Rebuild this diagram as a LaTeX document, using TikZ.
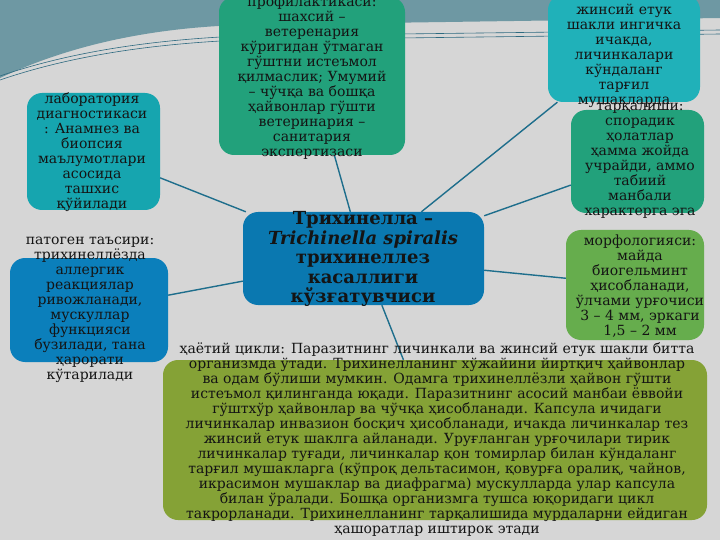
\documentclass[tikz,border=0pt]{standalone}
\usepackage{fontspec}
\setmainfont{DejaVu Serif}
\definecolor{bg}{HTML}{D6D6D6}
\definecolor{band}{HTML}{6E98A3}
\definecolor{wline}{HTML}{2E6A80}
\definecolor{conn}{HTML}{1E6E8C}
\definecolor{cgreen}{HTML}{22A17B}
\definecolor{cteal}{HTML}{20B1B9}
\definecolor{cteal2}{HTML}{16A5AF}
\definecolor{cmorph}{HTML}{66AD4D}
\definecolor{cblue}{HTML}{0B7FBB}
\definecolor{ccenter}{HTML}{0A78B0}
\definecolor{colive}{HTML}{85A236}
\tikzset{
  boxshape/.style={rectangle, rounded corners=15pt, inner sep=0pt, draw=none},
  txt/.style={align=center, inner sep=0pt, text=black!92, font=\fontsize{14}{15}\selectfont},
  ctxt/.style={align=center, inner sep=0pt, text=black!92, font=\fontsize{18}{19.5}\selectfont\bfseries},
  conn/.style={draw=conn, line width=1.4pt}
}
\begin{document}
\begin{tikzpicture}[x=1pt,y=-1pt]
\useasboundingbox (0,0) rectangle (720,540);
\fill[bg] (0,0) rectangle (720,540);
% top band
\fill[band] (0,0) -- (0,78) .. controls (70,45) and (150,28) .. (240,25) -- (720,18) -- (720,0) -- cycle;
\draw[wline, line width=0.6pt] (0,76) .. controls (70,52) and (150,40) .. (240,36) -- (720,30);
\draw[wline, line width=0.6pt] (0,80) .. controls (70,56) and (150,44) .. (240,40) -- (720,34);

% boxes
\node[boxshape, fill=cgreen, minimum width=186pt, minimum height=158pt] (prof) at (312,76) {};
\node[boxshape, fill=cteal, minimum width=152pt, minimum height=107pt] (jins) at (624,48.5) {};
\node[boxshape, fill=cgreen, minimum width=133pt, minimum height=103pt] (tarq) at (637.5,161.5) {};
\node[boxshape, fill=cmorph, minimum width=138pt, minimum height=110pt] (morf) at (635,285) {};
\node[boxshape, fill=cteal2, minimum width=133pt, minimum height=117pt] (lab) at (93.5,151.5) {};
\node[boxshape, fill=cblue, minimum width=158pt, minimum height=104pt] (pat) at (89,310) {};
\node[boxshape, fill=ccenter, minimum width=241pt, minimum height=93pt] (cen) at (363.5,258.5) {};
\node[boxshape, fill=colive, minimum width=544pt, minimum height=160pt] (hay) at (435,440) {};

% connectors
\draw[conn] (cen) -- (prof);
\draw[conn] (cen) -- (jins);
\draw[conn] (cen) -- (tarq);
\draw[conn] (cen) -- (morf);
\draw[conn] (cen) -- (lab);
\draw[conn] (cen) -- (pat);
\draw[conn] (cen) -- (hay);

% texts
\node[txt] (tprof) at (312,78) {профилактикаси:\\шахсий –\\ветеренария\\кўригидан ўтмаган\\гўштни истеъмол\\қилмаслик; Умумий\\– чўчқа ва бошқа\\ҳайвонлар гўшти\\ветеринария –\\санитария\\экспертизаси};
\node[txt] (tjins) at (624,56) {жинсий етук\\шакли ингичка\\ичакда,\\личинкалари\\кўндаланг\\тарғил\\мушакларда};
\node[txt] (ttarq) at (640,161) {тарқалиши:\\спорадик\\ҳолатлар\\ҳамма жойда\\учрайди, аммо\\табиий\\манбали\\характерга эга};
\node[txt] (tmorf) at (640,286) {морфологияси:\\майда\\биогельминт\\ҳисобланади,\\ўлчами урғочиси\\3 – 4 мм, эркаги\\1,5 – 2 мм};
\node[txt] (tlab) at (92,152) {лаборатория\\диагностикаси\\: Анамнез ва\\биопсия\\маълумотлари\\асосида\\ташхис\\қўйилади};
\node[txt] (tpat) at (90,310) {патоген таъсири:\\трихинеллёзда\\аллергик\\реакциялар\\ривожланади,\\мускуллар\\функцияси\\бузилади, тана\\ҳарорати\\кўтарилади};
\node[ctxt] (tcen) at (363,259) {Трихинелла –\\\textit{Trichinella spiralis}\\трихинеллез\\касаллиги\\кўзғатувчиси};
\node[txt] (thay) at (437,440) {ҳаётий цикли: Паразитнинг личинкали ва жинсий етук шакли битта\\организмда ўтади. Трихинелланинг хўжайини йиртқич ҳайвонлар\\ва одам бўлиши мумкин. Одамга трихинеллёзли ҳайвон гўшти\\истеъмол қилинганда юқади. Паразитнинг асосий манбаи ёввойи\\гўштхўр ҳайвонлар ва чўчқа ҳисобланади. Капсула ичидаги\\личинкалар инвазион босқич ҳисобланади, ичакда личинкалар тез\\жинсий етук шаклга айланади. Уруғланган урғочилари тирик\\личинкалар туғади, личинкалар қон томирлар билан кўндаланг\\тарғил мушакларга (кўпроқ дельтасимон, қовурға оралиқ, чайнов,\\икрасимон мушаклар ва диафрагма) мускулларда улар капсула\\билан ўралади. Бошқа организмга тушса юқоридаги цикл\\такрорланади. Трихинелланинг тарқалишида мурдаларни ейдиган\\ҳашоратлар иштирок этади};
\end{tikzpicture}
\end{document}
